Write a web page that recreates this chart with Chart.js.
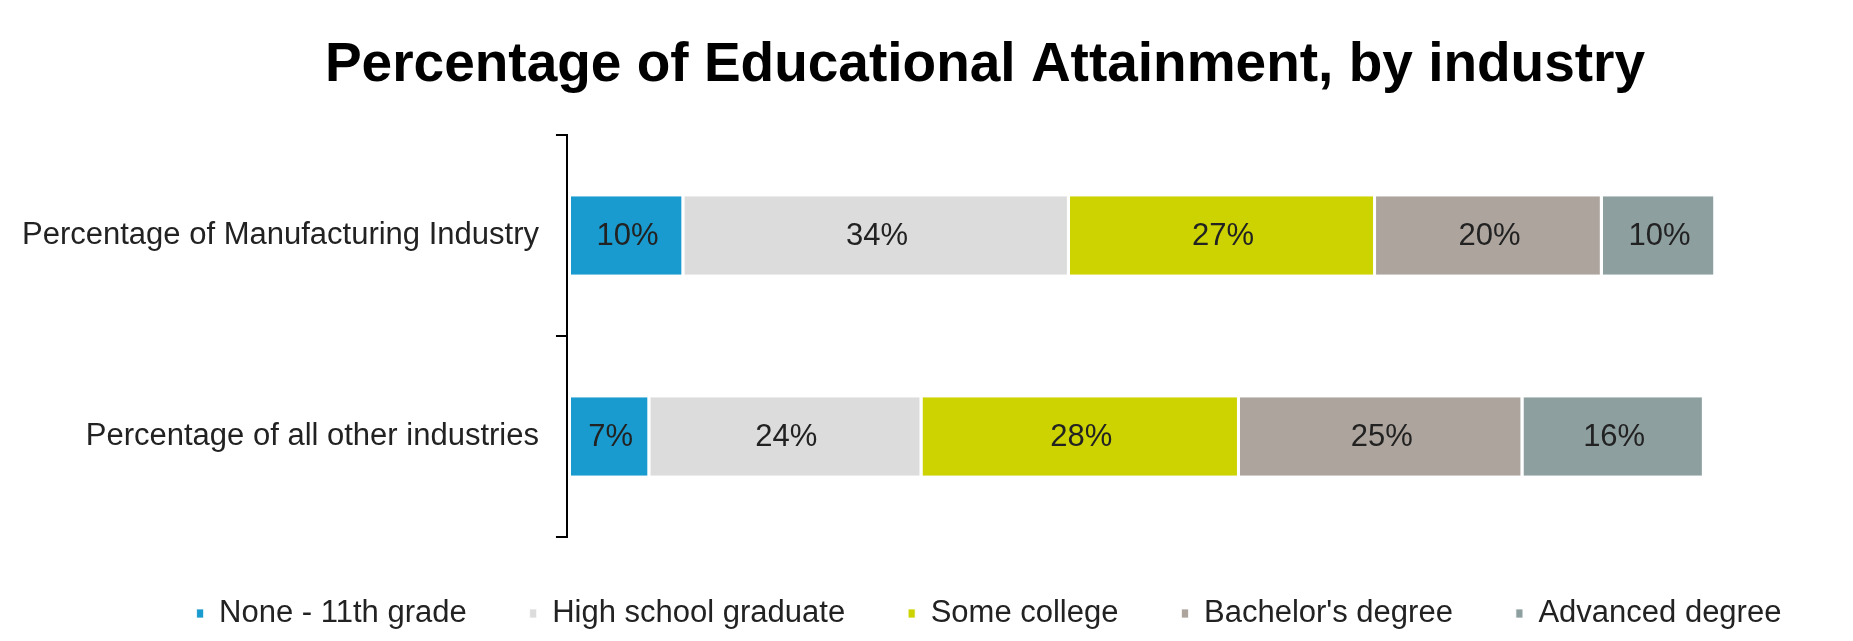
<!DOCTYPE html>
<html>
<head>
<meta charset="utf-8">
<title>Percentage of Educational Attainment, by industry</title>
<script src="https://cdn.jsdelivr.net/npm/chart.js@4.4.1/dist/chart.umd.min.js"></script>
<style>
  html, body { margin: 0; padding: 0; background: #fff; }
  #wrap { width: 1853px; height: 641px; position: relative; }
</style>
</head>
<body>
<div id="wrap"><canvas id="eduChart"></canvas></div>
<script>
const industries = ["Percentage of Manufacturing Industry", "Percentage of all other industries"];
const levels = ["None - 11th grade", "High school graduate", "Some college", "Bachelor's degree", "Advanced degree"];
const noneTo11th = [10, 7];
const highSchool = [34, 24];
const someCollege = [27, 28];
const bachelors = [20, 25];
const advanced = [10, 16];
const colors = ["#1a9bcf", "#dcdcdc", "#ccd300", "#ada49d", "#8e9fa0"];

const font = "'Liberation Sans', Arial, Helvetica, sans-serif";
const series = [noneTo11th, highSchool, someCollege, bachelors, advanced];

// title and legend sit centred a bit right of the canvas middle
const shiftHeader = {
  id: "shiftHeader",
  afterLayout(chart) {
    const t = chart.titleBlock;
    t.left += 66; t.right += 66;
    const l = chart.legend;
    l.left += 70; l.right += 70;
    l.top -= 2; l.bottom -= 2;
  }
};

// percent labels in the middle of each segment
const segmentLabels = {
  id: "segmentLabels",
  afterDatasetsDraw(chart) {
    const ctx = chart.ctx;
    ctx.save();
    ctx.font = "31px " + font;
    ctx.fillStyle = "#222";
    ctx.textAlign = "center";
    ctx.textBaseline = "middle";
    chart.data.datasets.forEach((ds, i) => {
      chart.getDatasetMeta(i).data.forEach((bar, j) => {
        const p = bar.getProps(["x", "y", "base"], true);
        ctx.fillText(ds.data[j] + "%", (p.x + p.base) / 2, p.y + 1);
      });
    });
    ctx.restore();
  }
};

new Chart(document.getElementById("eduChart"), {
  type: "bar",
  data: {
    labels: industries,
    datasets: levels.map((name, i) => ({
      label: name,
      data: series[i],
      backgroundColor: colors[i],
      borderColor: "#fff",
      borderWidth: { right: 3 },
      borderSkipped: false,
      categoryPercentage: 0.39,
      barPercentage: 1
    }))
  },
  options: {
    indexAxis: "y",
    responsive: true,
    maintainAspectRatio: false,
    animation: false,
    layout: { padding: { left: 5, right: 20, top: 0, bottom: 0 } },
    scales: {
      x: {
        stacked: true,
        min: -0.35,
        max: 111.3,
        display: false
      },
      y: {
        stacked: true,
        grid: {
          offset: true,
          drawOnChartArea: false,
          drawTicks: true,
          tickLength: 11,
          color: "#000",
          lineWidth: 2
        },
        border: { display: true, color: "#000", width: 2 },
        ticks: {
          padding: 17,
          color: "#222",
          font: { family: font, size: 31 }
        }
      }
    },
    plugins: {
      title: {
        display: true,
        text: "Percentage of Educational Attainment, by industry",
        color: "#000",
        font: { family: font, size: 55, weight: "bold" },
        padding: { top: 33, bottom: 36 }
      },
      legend: {
        position: "bottom",
        labels: {
          boxWidth: 7,
          boxHeight: 9,
          padding: 63,
          color: "#222",
          font: { family: font, size: 31 }
        }
      },
      tooltip: { enabled: false }
    }
  },
  plugins: [shiftHeader, segmentLabels]
});
</script>
</body>
</html>
